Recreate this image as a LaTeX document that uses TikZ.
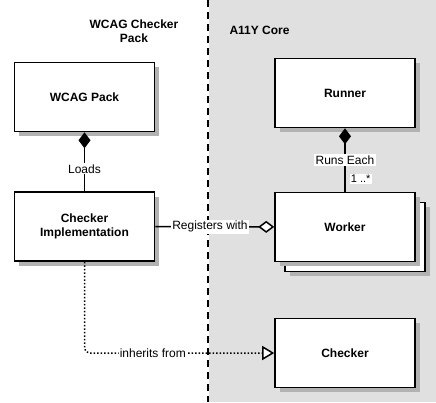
\documentclass[tikz,border=0pt]{standalone}
\usepackage{fontspec}
\setmainfont{Liberation Sans}
\usetikzlibrary{arrows.meta,shadows}

\begin{document}
\begin{tikzpicture}[x=1pt,y=-1pt,
  classe/.style = {draw,line width=1.6pt,fill=white,minimum width=140pt,minimum height=69pt,
    align=center,font=\bfseries\fontsize{12}{14}\selectfont,
    drop shadow={shadow xshift=4.5pt,shadow yshift=-4.5pt,fill=black!30,opacity=1}},
  rotulo/.style = {fill=white,inner sep=1.2pt,font=\fontsize{12}{14}\selectfont},
  ligacao/.style = {line width=1.5pt}]
\useasboundingbox (0,0) rectangle (436,402);
\fill[black!12] (209,0) rectangle (436,402);
\draw[line width=2pt,dash pattern=on 7pt off 5pt] (208,0) -- (208,402);

\node[font=\bfseries\fontsize{12}{14}\selectfont,align=center] (titpack) at (134,31) {WCAG Checker\\Pack};
\node[font=\bfseries\fontsize{12}{14}\selectfont,anchor=west] (titcore) at (226,30) {A11Y Core};

\node[classe] (pack) at (84.5,97) {WCAG Pack};
\node[classe] (impl) at (84.5,226.5) {Checker\\Implementation};
\node[classe] (runner) at (345,93) {Runner};
\node[classe] (workerb) at (355,237) {};
\node[classe] (worker) at (345,227) {Worker};
\node[classe] (checker) at (345,353) {Checker};

\draw[ligacao,{Diamond[fill=black,length=16pt,width=12pt]}-] (pack) -- node[rotulo,pos=0.62] (loads) {Loads} (impl);
\draw[ligacao,{Diamond[fill=black,length=16pt,width=12pt]}-] (runner) -- node[rotulo,pos=0.5] (runs) {Runs Each} node[rotulo,pos=0.8,right=4pt,font=\fontsize{11}{13}\selectfont] (mult) {1 ..*} (worker);
\draw[ligacao,-{Diamond[open,fill=white,length=16pt,width=12pt]}] (impl) -- node[rotulo,pos=0.46] (reg) {Registers with} (worker);
\draw[ligacao,dotted,rounded corners=5pt,-{Triangle[open,fill=white,length=12pt,width=14pt]}] (impl.south) |- node[rotulo,pos=0.68] (inh) {inherits from} (checker.west);
\end{tikzpicture}
\end{document}
